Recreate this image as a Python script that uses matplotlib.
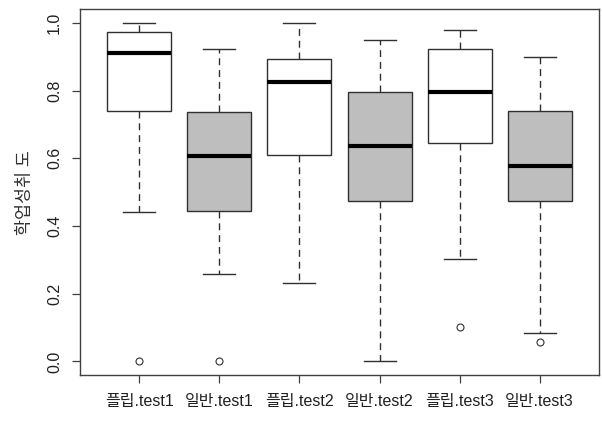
import matplotlib
matplotlib.use("Agg")
import matplotlib.pyplot as plt

plt.rcParams['font.family'] = ['Liberation Sans', 'Noto Sans CJK KR', 'DejaVu Sans']

# Box statistics
labels = ['플립.test1', '일반.test1', '플립.test2', '일반.test2', '플립.test3', '일반.test3']
whislo = [0.441, 0.259, 0.231, 0.000, 0.302, 0.083]
q1 = [0.741, 0.445, 0.611, 0.475, 0.644, 0.475]
med = [0.911, 0.607, 0.826, 0.637, 0.796, 0.577]
q3 = [0.973, 0.737, 0.892, 0.795, 0.923, 0.741]
whishi = [1.000, 0.923, 1.000, 0.950, 0.980, 0.899]
fliers = [[0.0], [0.0], [], [], [0.101], [0.059]]
fills = ['white', '#BEBEBE', 'white', '#BEBEBE', 'white', '#BEBEBE']

stats = []
for i in range(len(labels)):
    stats.append(dict(label=labels[i], whislo=whislo[i], q1=q1[i], med=med[i],
                      q3=q3[i], whishi=whishi[i], fliers=fliers[i]))

fig = plt.figure(figsize=(6.02, 4.25), dpi=100)
ax = fig.add_axes([0.1329, 0.1176, 0.8621, 0.8604])

bp = ax.bxp(stats, widths=0.8, capwidths=0.4, patch_artist=True,
            boxprops=dict(edgecolor='#303030', linewidth=1.0),
            medianprops=dict(color='black', linewidth=3.0, solid_capstyle='butt'),
            whiskerprops=dict(color='#303030', linewidth=1.0, linestyle=(0, (5, 3.5))),
            capprops=dict(color='#303030', linewidth=1.0),
            flierprops=dict(marker='o', markersize=5, markerfacecolor='none',
                            markeredgecolor='#303030', markeredgewidth=0.8))
for patch, c in zip(bp['boxes'], fills):
    patch.set_facecolor(c)

ax.set_xlim(0.26, 6.74)
ax.set_ylim(-0.04, 1.04)
ax.set_yticks([0.0, 0.2, 0.4, 0.6, 0.8, 1.0])
ax.set_yticklabels(['0.0', '0.2', '0.4', '0.6', '0.8', '1.0'], rotation=90, va='center')
ax.tick_params(axis='both', length=6, width=0.9, color='#404040', labelcolor='#202020',
               labelsize=11.5)
ax.tick_params(axis='y', pad=7)
ax.tick_params(axis='x', pad=8)
for s in ax.spines.values():
    s.set_color('#404040')
    s.set_linewidth(1.0)

ax.set_ylabel('학업성취 도', fontsize=12.5, color='#303030', labelpad=10)

fig.savefig('out.png', dpi=100)
